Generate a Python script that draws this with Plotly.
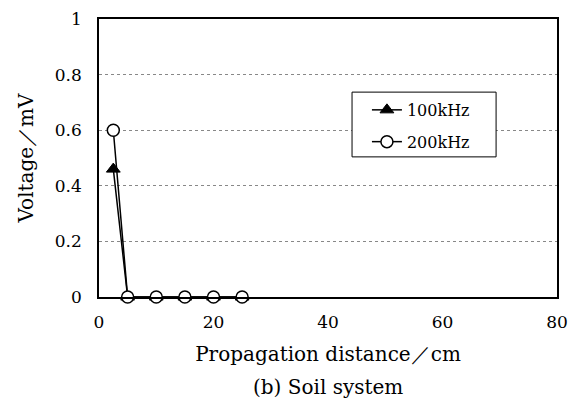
import plotly.graph_objects as go

distance_cm = [2.5, 5, 10, 15, 20, 25]
voltage_100khz = [0.46, 0, 0, 0, 0, 0]
voltage_200khz = [0.60, 0, 0, 0, 0, 0]
series_names = ["100kHz", "200kHz"]
x_ticks = [0, 20, 40, 60, 80]
y_ticks = [0, 0.2, 0.4, 0.6, 0.8, 1]

FONT = "DejaVu Serif, Liberation Serif, serif"

fig = go.Figure()
fig.add_trace(go.Scatter(
    x=distance_cm, y=voltage_100khz, name=series_names[0], legendgroup="a",
    mode="lines+markers", cliponaxis=False,
    line=dict(color="black", width=1.5),
    marker=dict(symbol="triangle-up", size=12, color="black",
                line=dict(color="black", width=1)),
))
fig.add_trace(go.Scatter(
    x=distance_cm, y=voltage_200khz, name=series_names[1], legendgroup="b",
    mode="lines+markers", cliponaxis=False,
    line=dict(color="black", width=1.5),
    marker=dict(symbol="circle", size=12, color="white",
                line=dict(color="black", width=1.5)),
))

fig.update_layout(
    width=569, height=399,
    margin=dict(l=91, r=20, t=11, b=110, autoexpand=False),
    paper_bgcolor="white", plot_bgcolor="white",
    font=dict(family=FONT, color="black", size=17),
    showlegend=True,
    legend=dict(
        x=0.585, y=0.734, xanchor="left", yanchor="top",
        bgcolor="rgba(0,0,0,0)", borderwidth=0,
        font=dict(family=FONT, size=16, color="black"),
        tracegroupgap=8, itemwidth=30,
    ),
    shapes=[dict(
        type="rect", xref="paper", yref="paper",
        x0=0.5525, x1=0.867, y0=0.504, y1=0.737,
        line=dict(color="black", width=1), fillcolor="white", layer="above",
    )],
    xaxis=dict(
        range=[0, 80], tickvals=x_ticks, showgrid=False, zeroline=False,
        showline=True, linecolor="black", linewidth=1.5, mirror=True,
        ticks="outside", ticklen=9, tickcolor="rgba(0,0,0,0)",
        tickfont=dict(size=17), automargin=False, ticklabeloverflow="allow",
        title=dict(text="Propagation distance／cm", font=dict(size=20), standoff=16),
    ),
    yaxis=dict(
        range=[0, 1], tickvals=y_ticks, showgrid=True, gridcolor="#888888",
        griddash="dot", gridwidth=1, zeroline=False,
        showline=True, linecolor="black", linewidth=1.5, mirror=True,
        ticks="outside", ticklen=12, tickcolor="rgba(0,0,0,0)",
        tickfont=dict(size=17), automargin=False, ticklabeloverflow="allow",
        title=dict(text="Voltage／mV", font=dict(size=20), standoff=16),
    ),
    annotations=[dict(
        text="(b) Soil system", xref="paper", yref="paper",
        x=0.5, y=-0.324, xanchor="center", yanchor="middle",
        showarrow=False, font=dict(family=FONT, size=20),
    )],
)

fig.write_html("out.html")
